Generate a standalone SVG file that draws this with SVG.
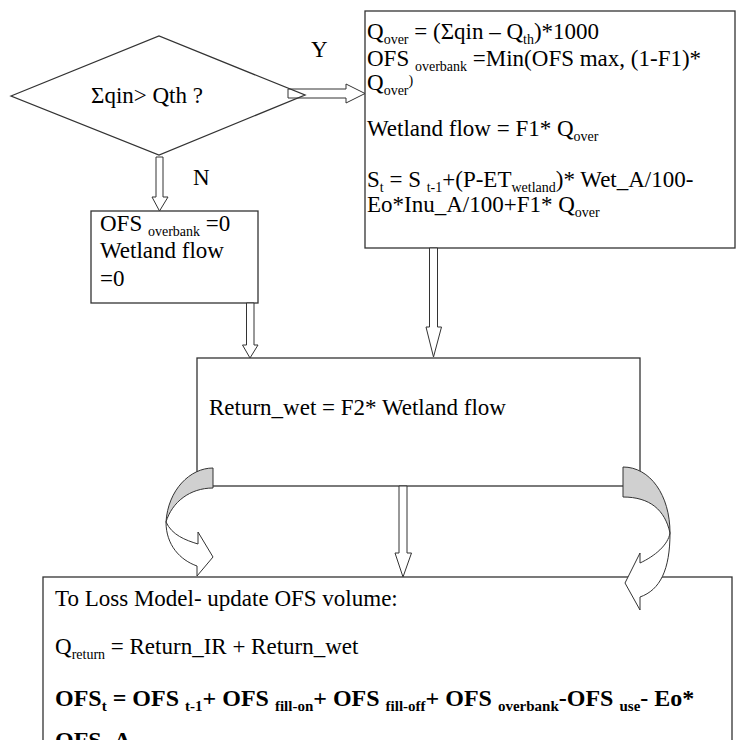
<svg xmlns="http://www.w3.org/2000/svg" width="736" height="740" viewBox="0 0 736 740">
<style>
.box{fill:#fff;stroke:#333;stroke-width:1.3}
.dia{fill:none;stroke:#333;stroke-width:1.3}
.blk{fill:#fff;stroke:#333;stroke-width:1}
.t{font-family:"Liberation Serif","Times New Roman",serif;font-size:23px;fill:#000}
.s{font-size:14px}
.b{font-weight:bold;font-size:24px}
.b .s{font-size:15px}
.gray{fill:#d0d0d0;stroke:#333;stroke-width:1}
.wht{fill:#fff;stroke:#333;stroke-width:1}
</style>
<g id="node-overflow">
<rect class="box" x="365" y="11" width="370" height="237"/>
<text class="t" x="367" y="39">Q<tspan class="s" dy="5">over</tspan><tspan dy="-5"> = (Σqin – Q</tspan><tspan class="s" dy="5">th</tspan><tspan dy="-5">)*1000</tspan></text>
<text class="t" x="367" y="66">OFS <tspan class="s" dy="5">overbank</tspan><tspan dy="-5"> =Min(OFS max, (1-F1)*</tspan></text>
<text class="t" x="367" y="90">Q<tspan class="s" dy="5">over</tspan><tspan class="s" dy="-10">)</tspan></text>
<text class="t" x="367" y="136">Wetland flow = F1* Q<tspan class="s" dy="5">over</tspan></text>
<text class="t" x="367" y="187">S<tspan class="s" dy="5">t</tspan><tspan dy="-5"> = S </tspan><tspan class="s" dy="5">t-1</tspan><tspan dy="-5">+(P-ET</tspan><tspan class="s" dy="5">wetland</tspan><tspan dy="-5">)* Wet_A/100-</tspan></text>
<text class="t" x="367" y="212">Eo*Inu_A/100+F1* Q<tspan class="s" dy="5">over</tspan></text>
</g>
<g id="node-noflow">
<rect class="box" x="91" y="211" width="167" height="92"/>
<text class="t" x="100" y="231">OFS <tspan class="s" dy="5">overbank</tspan><tspan dy="-5"> =0</tspan></text>
<text class="t" x="100" y="258">Wetland flow</text>
<text class="t" x="100" y="286">=0</text>
</g>
<g id="node-return">
<rect class="box" x="197" y="358" width="443" height="128"/>
<text class="t" x="209" y="415">Return_wet = F2* Wetland flow</text>
</g>
<g id="node-loss">
<rect class="box" x="43" y="577" width="689" height="190"/>
<text class="t" x="55" y="606">To Loss Model- update OFS volume:</text>
<text class="t" x="55" y="654">Q<tspan class="s" dy="5">return</tspan><tspan dy="-5"> = Return_IR + Return_wet</tspan></text>
<text class="t b" x="55" y="706">OFS<tspan class="s" dy="5">t</tspan><tspan dy="-5"> = OFS </tspan><tspan class="s" dy="5">t-1</tspan><tspan dy="-5">+ OFS </tspan><tspan class="s" dy="5">fill-on</tspan><tspan dy="-5">+ OFS </tspan><tspan class="s" dy="5">fill-off</tspan><tspan dy="-5">+ OFS </tspan><tspan class="s" dy="5">overbank</tspan><tspan dy="-5">-OFS </tspan><tspan class="s" dy="5">use</tspan><tspan dy="-5">- Eo*</tspan></text>
<text class="t b" x="55" y="748">OFS_A</text>
</g>
<g id="connectors">
<path class="blk" d="M288,89 H346 V84 L365,93.5 L346,103 V98 H288 Z"/>
<path class="blk" d="M156,157 V197 H152 L159.5,211 L168,197 H163 V157 Z"/>
<path class="blk" d="M246.5,303 V345 H242.5 L250,358 L258,345 H254 V303 Z"/>
<path class="blk" d="M429.5,248 V327 H426 L433.5,357 L441.5,327 H437.5 V248 Z"/>
<path class="blk" d="M399,486 V553 H395 L403,577 L411.5,553 H407 V486 Z"/>
<path class="gray" d="M213,468 C190,468 168,490 166,522 C172,502 190,488 213,488 Z"/>
<path class="wht" d="M166,522 C166,545 180,560 197,566 L197,576 L213,557 L198,532 L198,544 C185,540 172,535 166,522 Z"/>
<path class="gray" d="M623,467 C650,467 670,495 670,533 C665,510 650,497 623,497 Z"/>
<path class="wht" d="M670,533 C670,570 660,590 640,597 L640,610 L625,583 L640,553 L640,563 C655,556 668,545 670,533 Z"/>
</g>
<g id="node-decision">
<polygon class="dia" points="11,96 159,36 305,95 159,155"/>
<text class="t" x="91" y="103">Σqin&gt; Qth ?</text>
</g>
<g id="labels">
<text class="t" x="311" y="57">Y</text>
<text class="t" x="193" y="185">N</text>
</g>
</svg>
